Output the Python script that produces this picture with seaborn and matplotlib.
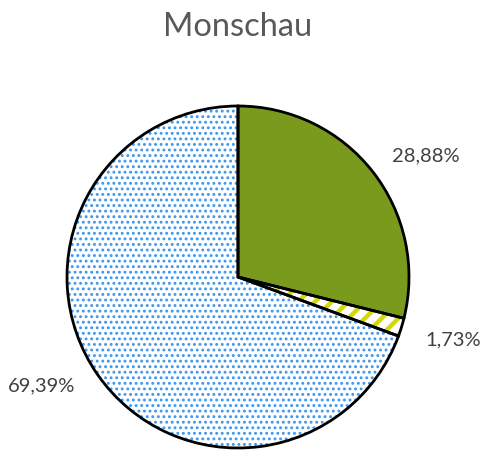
import matplotlib
matplotlib.use("Agg")
import matplotlib.pyplot as plt
import seaborn as sns
import numpy as np

sns.set_theme(style="white")
plt.rcParams["font.family"] = ["Lato", "DejaVu Sans"]

# Shares of the three categories for Monschau
categories = ["A", "B", "C"]
shares = [28.88, 1.73, 69.39]
labels = ["28,88%", "1,73%", "69,39%"]

face_colors = ["#7A9A1E", "white", "white"]
hatch_colors = ["#7A9A1E", "#D2D90A", "#3A96F0"]
hatches = ["", "//", "..."]
hatch_widths = [1.0, 3.2, 1.3]

fig = plt.figure(figsize=(4.82, 4.52), dpi=100)
ax = fig.add_axes([67 / 482, 3 / 452, 342 / 482, 342 / 452])

# Fill + hatch layer (hatch colour comes from the edge colour)
wedges, _ = ax.pie(shares, startangle=90, counterclock=False,
                   colors=face_colors, radius=1.0,
                   wedgeprops=dict(linewidth=0))
has_hlw = hasattr(wedges[0], "set_hatch_linewidth")
if not has_hlw:
    plt.rcParams["hatch.linewidth"] = 2.0
for w, h, hc, hw in zip(wedges, hatches, hatch_colors, hatch_widths):
    w.set_hatch(h)
    w.set_edgecolor(hc)
    w.set_linewidth(0)
    if has_hlw:
        w.set_hatch_linewidth(hw)

# Black outline layer
outline, _ = ax.pie(shares, startangle=90, counterclock=False, radius=1.0,
                    wedgeprops=dict(fill=False, edgecolor="black", linewidth=2))

# Percentage labels outside the wedges
offsets = [-5, 1, -6]
for w, lab, off in zip(outline, labels, offsets):
    ang = np.deg2rad((w.theta1 + w.theta2) / 2 + off)
    x, y = 1.31 * np.cos(ang), 1.31 * np.sin(ang)
    ax.text(x, y, lab, ha="center", va="center", fontsize=14.5, color="#404040")

ax.set_xlim(-1, 1)
ax.set_ylim(-1, 1)
ax.set_aspect("equal")
ax.axis("off")

fig.text(238 / 482, 1 - 27 / 452, "Monschau", ha="center", va="center",
         fontsize=23.5, color="#595959")

fig.savefig("out.png", dpi=100)
